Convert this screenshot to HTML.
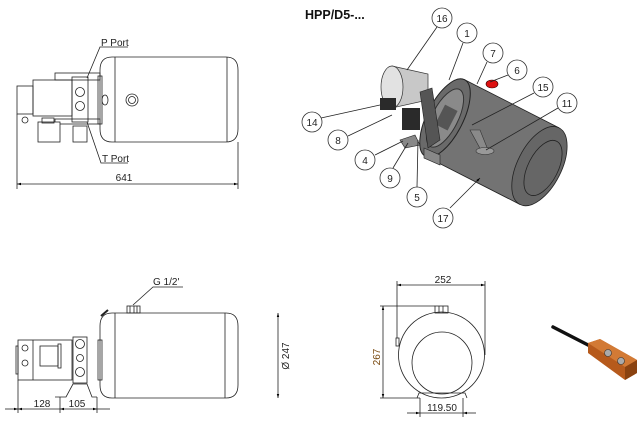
<!DOCTYPE html>
<html><head><meta charset="utf-8"><style>
html,body{margin:0;padding:0;background:#fff;}
svg{display:block;}
text{font-family:"Liberation Sans",sans-serif;}
</style></head><body>
<svg width="640" height="422" viewBox="0 0 640 422" xmlns="http://www.w3.org/2000/svg">
<defs>
<marker id="ar" viewBox="0 0 10 10" refX="10" refY="5" markerWidth="7" markerHeight="5" orient="auto-start-reverse"><path d="M0,2 L10,5 L0,8 z" fill="#000"/></marker>
</defs>
<g fill="none" stroke="#222" stroke-width="0.8">
<!-- ===== top-left view ===== -->
<path d="M112,57 H226 Q238,57 238,70 V129 Q238,142 226,142 H112 Q100,142 100,129 V70 Q100,57 112,57 Z" fill="#fff"/>
<line x1="115" y1="57" x2="115" y2="142"/>
<line x1="227" y1="57" x2="227" y2="142"/>
<circle cx="132" cy="100" r="6"/><circle cx="132" cy="100" r="3.5"/>
<ellipse cx="105" cy="100" rx="3" ry="5"/>
<rect x="98" y="76" width="4" height="48"/>
<rect x="55" y="73" width="45" height="7"/>
<rect x="55" y="119" width="45" height="5"/>
<rect x="33" y="80" width="39" height="36"/>
<rect x="17" y="86" width="16" height="28"/>
<rect x="72" y="77" width="16" height="45"/>
<circle cx="80" cy="92" r="4.5"/><circle cx="80" cy="106" r="4.5"/>
<rect x="38" y="122" width="22" height="20" fill="#fff"/>
<rect x="42" y="118" width="12" height="5"/>
<rect x="73" y="126" width="14" height="16"/>
<circle cx="25" cy="120" r="3"/>
<line x1="17" y1="114" x2="17" y2="189"/>
<line x1="238" y1="142" x2="238" y2="189"/>
<line x1="17" y1="184" x2="238" y2="184" marker-start="url(#ar)" marker-end="url(#ar)"/>
<polyline points="128,47 100,47 87,78"/>
<polyline points="87,122 101,163 128,163"/>

<!-- ===== bottom-left view ===== -->
<path d="M112,313 H226 Q238,313 238,326 V385 Q238,398 226,398 H112 Q100,398 100,385 V326 Q100,313 112,313 Z" fill="#fff"/>
<line x1="115" y1="313" x2="115" y2="398"/>
<line x1="225" y1="313" x2="225" y2="398"/>
<rect x="127" y="306" width="13" height="7"/>
<line x1="130" y1="306" x2="130" y2="313"/><line x1="134" y1="306" x2="134" y2="313"/><line x1="137" y1="306" x2="137" y2="313"/>
<line x1="101" y1="316" x2="108" y2="310" stroke-width="2"/>
<rect x="98" y="340" width="4" height="40"/>
<rect x="18" y="340" width="54" height="40"/>
<line x1="33" y1="340" x2="33" y2="380"/>
<rect x="16" y="346" width="2" height="28"/>
<circle cx="25" cy="348" r="3"/><circle cx="25" cy="363" r="3"/>
<rect x="40" y="346" width="18" height="20"/>
<rect x="58" y="344" width="3" height="24"/>
<rect x="73" y="337" width="14" height="46"/>
<circle cx="80" cy="344" r="4.5"/><circle cx="80" cy="358" r="3.5"/><circle cx="80" cy="372" r="4.5"/>
<path d="M55,397 H66 L73,384 H87 L92,397 H97"/>
<line x1="278" y1="313" x2="278" y2="398" marker-start="url(#ar)" marker-end="url(#ar)"/>
<polyline points="183,287 153,287 133,305"/>
<line x1="18" y1="380" x2="18" y2="413"/>
<line x1="60" y1="397" x2="60" y2="413"/>
<line x1="97" y1="397" x2="97" y2="413"/>
<line x1="5" y1="409" x2="18" y2="409" marker-end="url(#ar)"/>
<line x1="18" y1="409" x2="60" y2="409" marker-start="url(#ar)"/>
<line x1="60" y1="409" x2="97" y2="409" marker-start="url(#ar)" marker-end="url(#ar)"/>
<line x1="97" y1="409" x2="110" y2="409"/>

<!-- ===== side view ===== -->
<circle cx="441.5" cy="355" r="43"/>
<ellipse cx="442" cy="363" rx="30" ry="31"/>
<rect x="435" y="306" width="13" height="7"/>
<line x1="439" y1="306" x2="439" y2="313"/><line x1="443" y1="306" x2="443" y2="313"/>
<rect x="396" y="338" width="3" height="8"/>
<path d="M417,398 L419,393 H465 L467,398"/>
<line x1="397" y1="281" x2="397" y2="338"/>
<line x1="485" y1="281" x2="485" y2="355"/>
<line x1="397" y1="285" x2="485" y2="285" marker-start="url(#ar)" marker-end="url(#ar)"/>
<line x1="380" y1="306" x2="435" y2="306"/>
<line x1="380" y1="398" x2="420" y2="398"/>
<line x1="383" y1="306" x2="383" y2="398" marker-start="url(#ar)" marker-end="url(#ar)"/>
<line x1="420" y1="398" x2="420" y2="417"/>
<line x1="463" y1="398" x2="463" y2="417"/>
<line x1="407" y1="413" x2="420" y2="413" marker-end="url(#ar)"/>
<line x1="420" y1="413" x2="463" y2="413"/>
<line x1="476" y1="413" x2="463" y2="413" marker-end="url(#ar)"/>
</g>

<!-- ===== 3D view ===== -->
<g transform="translate(445,118) rotate(27)">
<rect x="0" y="-43" width="106" height="86" fill="#737373" stroke="#222" stroke-width="0.8"/>
<ellipse cx="106" cy="0" rx="22" ry="43" fill="#666" stroke="#222" stroke-width="0.8"/>
<ellipse cx="110" cy="0" rx="15" ry="30" fill="none" stroke="#222" stroke-width="0.8"/>
<ellipse cx="0" cy="0" rx="18" ry="43" fill="#6a6a6a" stroke="#222" stroke-width="1"/>
<ellipse cx="0" cy="0" rx="13" ry="32" fill="#8a8a8a" stroke="#333"/>
<rect x="-6" y="-12" width="14" height="22" fill="#555"/>
</g>
<!-- motor -->
<path d="M392,66 L428,74 L428,100 L392,108 Z" fill="#c8c8c8" stroke="#333" stroke-width="0.7"/>
<ellipse cx="392" cy="87" rx="11" ry="21" fill="#e2e2e2" stroke="#333" stroke-width="0.7"/>
<rect x="380" y="98" width="16" height="12" fill="#2a2a2a"/>
<rect x="402" y="108" width="18" height="22" fill="#2a2a2a"/>
<path d="M420,92 L432,88 L440,140 L428,148 Z" fill="#555" stroke="#222" stroke-width="0.6"/>
<path d="M400,140 L415,135 L420,145 L405,148 Z" fill="#888" stroke="#222" stroke-width="0.6"/>
<path d="M424,148 L440,155 L440,165 L424,158 Z" fill="#888" stroke="#222" stroke-width="0.6"/>
<path d="M470,130 L480,130 L488,150 L482,152 Z" fill="#8a8a8a" stroke="#333" stroke-width="0.6"/>
<ellipse cx="485" cy="151" rx="9" ry="3.5" fill="#999" stroke="#333" stroke-width="0.6"/>
<ellipse cx="492" cy="84" rx="6" ry="4" fill="#d11" stroke="#300" stroke-width="0.6"/>
<!-- leaders -->
<g stroke="#222" stroke-width="0.8" fill="none">
<line x1="437" y1="27" x2="407" y2="70"/>
<line x1="463" y1="43" x2="449" y2="80"/>
<line x1="487" y1="62" x2="477" y2="84"/>
<line x1="508" y1="75" x2="490" y2="82"/>
<line x1="534" y1="93" x2="472" y2="125"/>
<line x1="558" y1="108" x2="486" y2="150"/>
<line x1="321" y1="118" x2="380" y2="105"/>
<line x1="348" y1="136" x2="392" y2="115"/>
<line x1="375" y1="155" x2="403" y2="141"/>
<line x1="393" y1="168" x2="408" y2="143"/>
<line x1="417" y1="187" x2="418" y2="140"/>
<line x1="450" y1="208" x2="480" y2="178" marker-end="url(#ar)"/>
</g>
<g fill="#fff" stroke="#333" stroke-width="0.8">
<circle cx="442" cy="18" r="10"/><circle cx="467" cy="33" r="10"/><circle cx="493" cy="53" r="10"/>
<circle cx="517" cy="70" r="10"/><circle cx="543" cy="87" r="10"/><circle cx="567" cy="103" r="10"/>
<circle cx="312" cy="122" r="10"/><circle cx="338" cy="140" r="10"/><circle cx="365" cy="160" r="10"/>
<circle cx="390" cy="178" r="10"/><circle cx="417" cy="197" r="10"/><circle cx="443" cy="218" r="10"/>
</g>
<g font-size="10" text-anchor="middle" fill="#222">
<text x="442" y="22">16</text><text x="467" y="37">1</text><text x="493" y="57">7</text>
<text x="517" y="74">6</text><text x="543" y="91">15</text><text x="567" y="107">11</text>
<text x="312" y="126">14</text><text x="338" y="144">8</text><text x="365" y="164">4</text>
<text x="390" y="182">9</text><text x="417" y="201">5</text><text x="443" y="222">17</text>
</g>
<text x="305" y="19" font-size="12.5" font-weight="bold" fill="#111">HPP/D5-...</text>

<!-- controller -->
<line x1="553" y1="327" x2="590" y2="346" stroke="#111" stroke-width="3.5" stroke-linecap="round"/>
<path d="M588,343 L600,339 L637,360 L637,373 L625,380 L588,353 Z" fill="#b65a1c"/>
<path d="M588,343 L600,339 L637,360 L625,367 Z" fill="#d27a35"/>
<path d="M625,367 L637,360 L637,373 L625,380 Z" fill="#8a4210"/>
<circle cx="608" cy="353" r="3.5" fill="#aaa" stroke="#333" stroke-width="0.6"/>
<circle cx="621" cy="361" r="3.5" fill="#aaa" stroke="#333" stroke-width="0.6"/>

<!-- labels -->
<g font-size="10" fill="#222">
<text x="101" y="46">P Port</text>
<text x="102" y="162">T Port</text>
<text x="124" y="181" text-anchor="middle">641</text>
<text x="153" y="285">G 1/2'</text>
<text x="42" y="407" text-anchor="middle">128</text>
<text x="77" y="407" text-anchor="middle">105</text>
<text x="443" y="283" text-anchor="middle">252</text>
<text x="442" y="411" text-anchor="middle">119.50</text>
<text transform="translate(289,356) rotate(-90)" text-anchor="middle">Ø 247</text>
<text transform="translate(380,357) rotate(-90)" text-anchor="middle" fill="#7a4a10">267</text>
</g>
</svg>
</body></html>
